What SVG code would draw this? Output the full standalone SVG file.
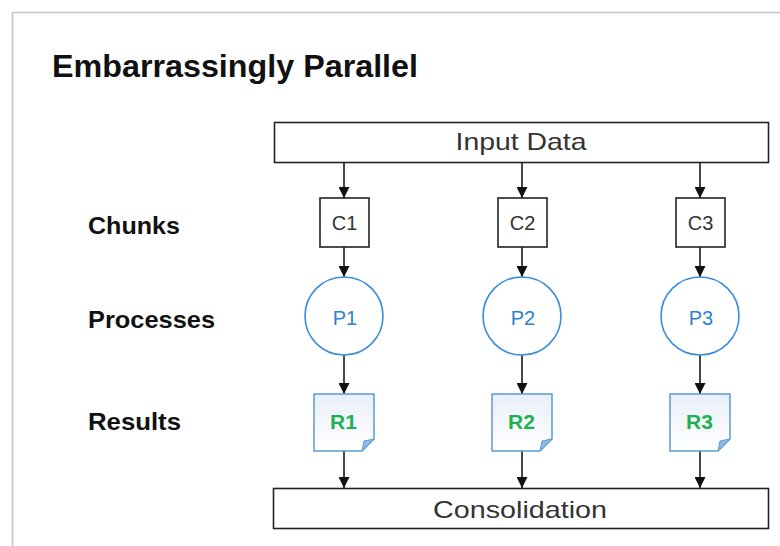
<svg xmlns="http://www.w3.org/2000/svg" width="780" height="546" viewBox="0 0 780 546">
<style>
.box{fill:#fff;stroke:#222;stroke-width:1.6}
.lbl{font-family:"Liberation Sans",Arial,sans-serif;font-weight:bold;fill:#111}
.txt{font-family:"Liberation Sans",Arial,sans-serif;fill:#333;text-anchor:middle}
.proc{fill:#fff;stroke:#3a8ddb;stroke-width:1.6}
.ptxt{font-family:"Liberation Sans",Arial,sans-serif;fill:#2f7fd2;text-anchor:middle;font-size:20px}
.doc{fill:url(#docg);stroke:#5b9bd5;stroke-width:1.5}
.fold{fill:#8fb8e6;stroke:#5b9bd5;stroke-width:1}
.rtxt{font-family:"Liberation Sans",Arial,sans-serif;font-weight:bold;fill:#1fb052;text-anchor:middle;font-size:21px}
.conn line{stroke:#333;stroke-width:1.8;marker-end:url(#ah)}
</style>
<defs>
<marker id="ah" viewBox="0 0 10 10" refX="10" refY="5" markerWidth="11" markerHeight="11" markerUnits="userSpaceOnUse" orient="auto">
<path d="M0,0 L10,5 L0,10 z" fill="#111"/>
</marker>
<linearGradient id="docg" x1="0" y1="0" x2="0" y2="1">
<stop offset="0" stop-color="#e9eef8"/>
<stop offset="1" stop-color="#ffffff"/>
</linearGradient>
</defs>
<rect x="0" y="0" width="780" height="546" fill="#fff"/>
<path d="M12.5,546 L12.5,12.5 L780,12.5" fill="none" stroke="#c4c4c4" stroke-width="1.6"/>
<text class="lbl" x="52" y="77" font-size="31" textLength="366" lengthAdjust="spacingAndGlyphs">Embarrassingly Parallel</text>
<text class="lbl" x="88" y="234" font-size="24" textLength="92" lengthAdjust="spacingAndGlyphs">Chunks</text>
<text class="lbl" x="88" y="328" font-size="24" textLength="127" lengthAdjust="spacingAndGlyphs">Processes</text>
<text class="lbl" x="88" y="430" font-size="24" textLength="93" lengthAdjust="spacingAndGlyphs">Results</text>

<g class="conn">
<line x1="344" y1="162" x2="344" y2="198"/>
<line x1="522" y1="162" x2="522" y2="198"/>
<line x1="700" y1="162" x2="700" y2="198"/>
<line x1="344" y1="247" x2="344" y2="277"/>
<line x1="522" y1="247" x2="522" y2="277"/>
<line x1="700" y1="247" x2="700" y2="277"/>
<line x1="344" y1="355" x2="344" y2="394"/>
<line x1="522" y1="355" x2="522" y2="394"/>
<line x1="700" y1="355" x2="700" y2="394"/>
<line x1="344" y1="451" x2="344" y2="488"/>
<line x1="522" y1="451" x2="522" y2="488"/>
<line x1="700" y1="451" x2="700" y2="488"/>
</g>

<g id="input">
<rect class="box" x="274.5" y="122.5" width="494" height="40"/>
<text class="txt" x="521" y="150" font-size="24" textLength="131" lengthAdjust="spacingAndGlyphs">Input Data</text>
</g>
<g id="c1"><rect class="box" x="320" y="198" width="49" height="49"/><text class="txt" x="344.5" y="230" font-size="20">C1</text></g>
<g id="c2"><rect class="box" x="498" y="198" width="49" height="49"/><text class="txt" x="522.5" y="230" font-size="20">C2</text></g>
<g id="c3"><rect class="box" x="676" y="198" width="49" height="49"/><text class="txt" x="700.5" y="230" font-size="20">C3</text></g>

<g id="p1"><circle class="proc" cx="344" cy="316" r="39"/><text class="ptxt" x="345" y="325">P1</text></g>
<g id="p2"><circle class="proc" cx="522" cy="316" r="39"/><text class="ptxt" x="523" y="325">P2</text></g>
<g id="p3"><circle class="proc" cx="700" cy="316" r="39"/><text class="ptxt" x="701" y="325">P3</text></g>

<g id="r1"><path class="doc" d="M314,394 L374,394 L374,439 L362,451 L314,451 Z"/><path class="fold" d="M362,451 L374,439 L364,441 Z"/><text class="rtxt" x="343.5" y="429">R1</text></g>
<g id="r2"><path class="doc" d="M492,394 L552,394 L552,439 L540,451 L492,451 Z"/><path class="fold" d="M540,451 L552,439 L542,441 Z"/><text class="rtxt" x="521.5" y="429">R2</text></g>
<g id="r3"><path class="doc" d="M670,394 L730,394 L730,439 L718,451 L670,451 Z"/><path class="fold" d="M718,451 L730,439 L720,441 Z"/><text class="rtxt" x="699.5" y="429">R3</text></g>

<g id="consolidation">
<rect class="box" x="273.5" y="488.5" width="495" height="40"/>
<text class="txt" x="520" y="518" font-size="24" textLength="174" lengthAdjust="spacingAndGlyphs">Consolidation</text>
</g>
</svg>
